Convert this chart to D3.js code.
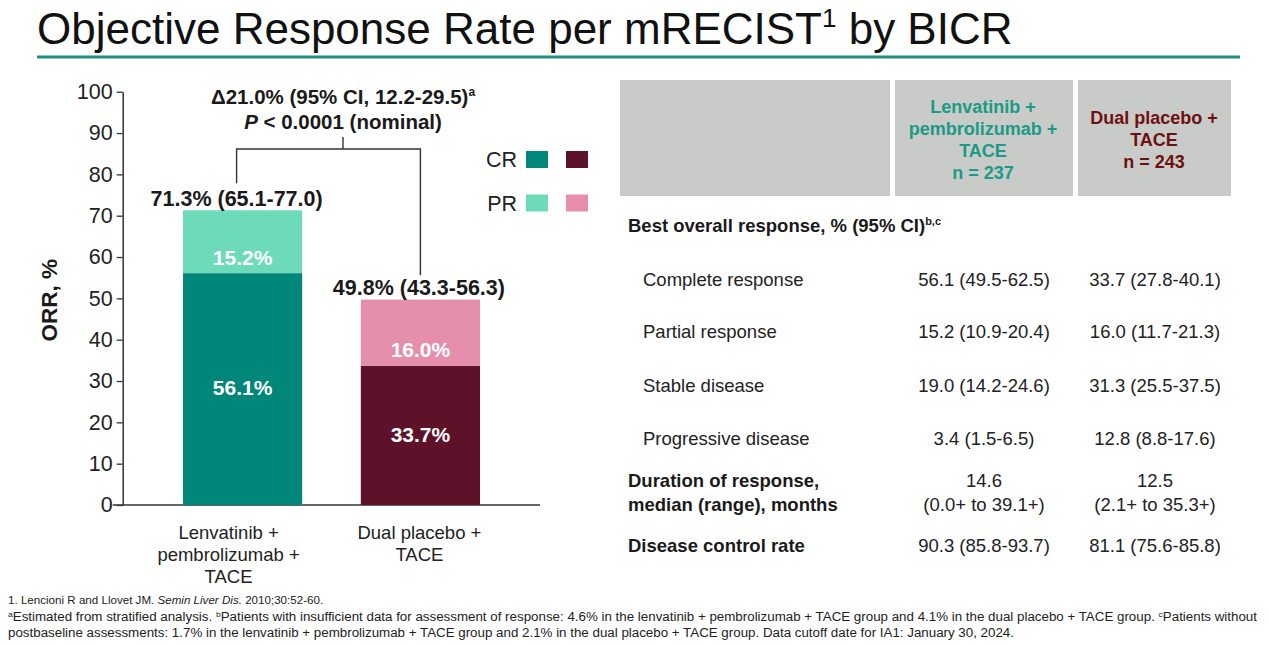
<!DOCTYPE html>
<html>
<head>
<meta charset="utf-8">
<script src="https://cdn.jsdelivr.net/npm/d3@7"></script>
<style>
  html, body { margin: 0; padding: 0; background: #fff; }
  svg { display: block; font-family: "Liberation Sans", Arial, sans-serif; }
</style>
</head>
<body>
<svg id="chart" width="1268" height="646"></svg>
<script>
// ---------------- data ----------------
const groups = ["Lenvatinib + pembrolizumab + TACE", "Dual placebo + TACE"];
const groupLabelLines = [["Lenvatinib +", "pembrolizumab +", "TACE"], ["Dual placebo +", "TACE"]];
const crValues = [56.1, 33.7];
const prValues = [15.2, 16.0];
const orrValues = [71.3, 49.8];
const orrCI = ["65.1-77.0", "43.3-56.3"];
const yTickValues = [0, 10, 20, 30, 40, 50, 60, 70, 80, 90, 100];
const legendKeys = ["CR", "PR"];

const headerLenv = ["Lenvatinib +", "pembrolizumab +", "TACE", "n = 237"];
const headerPlacebo = ["Dual placebo +", "TACE", "n = 243"];
const responseRows = ["Complete response", "Partial response", "Stable disease", "Progressive disease"];
const lenvResponse = ["56.1 (49.5-62.5)", "15.2 (10.9-20.4)", "19.0 (14.2-24.6)", "3.4 (1.5-6.5)"];
const placeboResponse = ["33.7 (27.8-40.1)", "16.0 (11.7-21.3)", "31.3 (25.5-37.5)", "12.8 (8.8-17.6)"];
const dorLabel = ["Duration of response,", "median (range), months"];
const dorLenv = ["14.6", "(0.0+ to 39.1+)"];
const dorPlacebo = ["12.5", "(2.1+ to 35.3+)"];
const dcrLabel = "Disease control rate";
const dcrLenv = "90.3 (85.8-93.7)";
const dcrPlacebo = "81.1 (75.6-85.8)";

// ---------------- styling ----------------
const colors = {
  CR: ["#00877a", "#5d1229"],
  PR: ["#6ddbba", "#e68fac"]
};
const teal = "#1e8c7e";
const headerTeal = "#1b9a86";
const headerMaroon = "#6e1010";
const textDark = "#1a1a1a";

const svg = d3.select("#chart");

// ---------------- title ----------------
const title = svg.append("text")
  .attr("x", 37).attr("y", 44)
  .attr("font-size", 44).attr("fill", "#111");
title.append("tspan").text("Objective Response Rate per mRECIST");
title.append("tspan").attr("font-size", 26).attr("dy", -17).text("1");
title.append("tspan").attr("dy", 17).text(" by BICR");

svg.append("line")
  .attr("x1", 37).attr("x2", 1240).attr("y1", 57).attr("y2", 57)
  .attr("stroke", teal).attr("stroke-width", 3);

// ---------------- bar chart ----------------
const y = d3.scaleLinear().domain([0, 100]).range([505, 91.7]);
const x = d3.scaleBand().domain(groups).range([123, 540])
  .paddingInner(0.33).paddingOuter(0.3375);
const axisX = 122.7;

const yAxis = svg.append("g")
  .attr("transform", `translate(${axisX},0)`)
  .call(d3.axisLeft(y).tickValues(yTickValues).tickSize(6).tickSizeOuter(0).tickPadding(4));
yAxis.select(".domain").attr("stroke", "#333").attr("stroke-width", 1.5);
yAxis.selectAll(".tick line").attr("stroke", "#333").attr("stroke-width", 1.3);
yAxis.selectAll(".tick text")
  .attr("font-size", 21.5).attr("fill", "#222")
  .attr("font-family", "Liberation Sans, Arial, sans-serif");

// x axis baseline
svg.append("line")
  .attr("x1", axisX - 10).attr("x2", x.range()[1])
  .attr("y1", y(0)).attr("y2", y(0))
  .attr("stroke", "#333").attr("stroke-width", 1.5);

// y title
svg.append("text")
  .attr("transform", `translate(57,${y(50) + 2}) rotate(-90)`)
  .attr("text-anchor", "middle")
  .attr("font-size", 22.5).attr("font-weight", "bold").attr("fill", textDark)
  .text("ORR, %");

// stacked bars
const barData = groups.map((g, i) => ({ group: g, idx: i, CR: crValues[i], PR: prValues[i] }));
const stack = d3.stack().keys(legendKeys)(barData);

svg.append("g").selectAll("g")
  .data(stack).join("g")
  .each(function (layer) {
    d3.select(this).selectAll("rect")
      .data(layer).join("rect")
      .attr("x", d => x(d.data.group))
      .attr("width", x.bandwidth())
      .attr("y", d => y(d[1]))
      .attr("height", d => y(d[0]) - y(d[1]))
      .attr("fill", d => colors[layer.key][d.data.idx]);
  });

// in-bar labels
const labelG = svg.append("g")
  .attr("font-size", 21).attr("font-weight", "bold").attr("fill", "#fff")
  .attr("text-anchor", "middle");
barData.forEach(d => {
  const cx = x(d.group) + x.bandwidth() / 2;
  labelG.append("text")
    .attr("x", cx).attr("y", y(d.CR + d.PR * 0.25)).attr("dy", "0.35em")
    .text(d.PR.toFixed(1) + "%");
  labelG.append("text")
    .attr("x", cx).attr("y", y(d.CR / 2)).attr("dy", "0.3em")
    .text(d.CR.toFixed(1) + "%");
});

// ORR labels above bars
const orrOffsets = [-6, -1.5];
barData.forEach((d, i) => {
  svg.append("text")
    .attr("x", x(d.group) + x.bandwidth() / 2 + orrOffsets[i])
    .attr("y", y(orrValues[i]) - 4.5)
    .attr("text-anchor", "middle")
    .attr("font-size", 21.5).attr("font-weight", "bold").attr("fill", textDark)
    .text(`${orrValues[i].toFixed(1)}% (${orrCI[i]})`);
});

// bracket
const bx1 = x(groups[0]) + x.bandwidth() / 2 + orrOffsets[0];
const bx2 = x(groups[1]) + x.bandwidth() / 2;
const by = 149;
const bmid = 343;
const bracket = svg.append("g").attr("stroke", "#333").attr("stroke-width", 1.4).attr("fill", "none");
bracket.append("path")
  .attr("d", `M${bx1},${y(orrValues[0]) - 27}V${by}H${bx2}V${y(orrValues[1]) - 24}`);
bracket.append("line").attr("x1", bmid).attr("x2", bmid).attr("y1", by).attr("y2", by - 12);

const ann1 = svg.append("text")
  .attr("x", bmid).attr("y", 104).attr("text-anchor", "middle")
  .attr("font-size", 20.5).attr("font-weight", "bold").attr("fill", textDark);
ann1.append("tspan").text("\u039421.0% (95% CI, 12.2-29.5)");
ann1.append("tspan").attr("font-size", 12).attr("dy", -8).text("a");
const ann2 = svg.append("text")
  .attr("x", bmid).attr("y", 129).attr("text-anchor", "middle")
  .attr("font-size", 20.5).attr("font-weight", "bold").attr("fill", textDark);
ann2.append("tspan").attr("font-style", "italic").text("P");
ann2.append("tspan").text(" < 0.0001 (nominal)");

// group labels
groupLabelLines.forEach((lines, i) => {
  const cx = x(groups[i]) + x.bandwidth() / 2 + (i === 0 ? -14 : -1);
  const t = svg.append("text")
    .attr("text-anchor", "middle").attr("font-size", 18.5).attr("fill", "#222");
  lines.forEach((ln, j) => {
    t.append("tspan").attr("x", cx).attr("y", y(0) + 34 + j * 22).text(ln);
  });
});

// legend
const legend = svg.append("g");
legendKeys.forEach((k, i) => {
  const ly = 167 + i * 43.5;
  legend.append("text")
    .attr("x", 517).attr("y", ly).attr("text-anchor", "end")
    .attr("font-size", 21.5).attr("fill", "#222").text(k);
  colors[k].forEach((c, j) => {
    legend.append("rect")
      .attr("x", 526 + j * 40).attr("y", ly - 16)
      .attr("width", 22).attr("height", 17).attr("fill", c);
  });
});

// ---------------- table ----------------
const col1 = 984, col2 = 1155;
const tbl = svg.append("g");
[[620, 890], [895, 1073], [1078, 1231]].forEach(([a, b]) => {
  tbl.append("rect").attr("x", a).attr("y", 80).attr("width", b - a).attr("height", 116)
    .attr("fill", "#c9cbc9");
});
const h1 = tbl.append("text").attr("text-anchor", "middle").attr("font-size", 18)
  .attr("font-weight", "bold").attr("fill", headerTeal);
headerLenv.forEach((ln, j) => h1.append("tspan").attr("x", col1 - 1).attr("y", 113 + j * 22).text(ln));
const h2 = tbl.append("text").attr("text-anchor", "middle").attr("font-size", 18)
  .attr("font-weight", "bold").attr("fill", headerMaroon);
headerPlacebo.forEach((ln, j) => h2.append("tspan").attr("x", col2 - 1).attr("y", 124 + j * 22).text(ln));

const bor = tbl.append("text").attr("x", 628).attr("y", 232)
  .attr("font-size", 18.5).attr("font-weight", "bold").attr("fill", textDark);
bor.append("tspan").text("Best overall response, % (95% CI)");
bor.append("tspan").attr("font-size", 11).attr("dy", -7).text("b,c");

const rowYs = [286, 338, 392, 445];
responseRows.forEach((r, i) => {
  tbl.append("text").attr("x", 643).attr("y", rowYs[i]).attr("font-size", 18.5)
    .attr("fill", "#222").text(r);
  tbl.append("text").attr("x", col1).attr("y", rowYs[i]).attr("text-anchor", "middle")
    .attr("font-size", 18.5).attr("fill", "#222").text(lenvResponse[i]);
  tbl.append("text").attr("x", col2).attr("y", rowYs[i]).attr("text-anchor", "middle")
    .attr("font-size", 18.5).attr("fill", "#222").text(placeboResponse[i]);
});
dorLabel.forEach((ln, j) => {
  const yy = 487 + j * 23.5;
  tbl.append("text").attr("x", 628).attr("y", yy).attr("font-size", 18.5)
    .attr("font-weight", "bold").attr("fill", textDark).text(ln);
  tbl.append("text").attr("x", col1).attr("y", yy).attr("text-anchor", "middle")
    .attr("font-size", 18.5).attr("fill", "#222").text(dorLenv[j]);
  tbl.append("text").attr("x", col2).attr("y", yy).attr("text-anchor", "middle")
    .attr("font-size", 18.5).attr("fill", "#222").text(dorPlacebo[j]);
});
tbl.append("text").attr("x", 628).attr("y", 552).attr("font-size", 18.5)
  .attr("font-weight", "bold").attr("fill", textDark).text(dcrLabel);
tbl.append("text").attr("x", col1).attr("y", 552).attr("text-anchor", "middle")
  .attr("font-size", 18.5).attr("fill", "#222").text(dcrLenv);
tbl.append("text").attr("x", col2).attr("y", 552).attr("text-anchor", "middle")
  .attr("font-size", 18.5).attr("fill", "#222").text(dcrPlacebo);

// ---------------- footnotes ----------------
const fnFont = "Liberation Sans Narrow, Arial Narrow, Liberation Sans, Arial, sans-serif";
const fn = svg.append("g").attr("font-family", fnFont).attr("font-size", 12.5).attr("fill", "#222");
const f1 = fn.append("text").attr("x", 8).attr("y", 604).attr("font-size", 11.6);
f1.append("tspan").text("1. Lencioni R and Llovet JM. ");
f1.append("tspan").attr("font-style", "italic").text("Semin Liver Dis.");
f1.append("tspan").text(" 2010;30:52-60.");

const f2 = fn.append("text").attr("x", 8).attr("y", 621)
  .attr("textLength", 1249).attr("lengthAdjust", "spacingAndGlyphs");
f2.append("tspan").attr("font-size", 8).attr("dy", -4).text("a");
f2.append("tspan").attr("dy", 4).text("Estimated from stratified analysis. ");
f2.append("tspan").attr("font-size", 8).attr("dy", -4).text("b");
f2.append("tspan").attr("dy", 4).text("Patients with insufficient data for assessment of response: 4.6% in the lenvatinib + pembrolizumab + TACE group and 4.1% in the dual placebo + TACE group. ");
f2.append("tspan").attr("font-size", 8).attr("dy", -4).text("c");
f2.append("tspan").attr("dy", 4).text("Patients without");

fn.append("text").attr("x", 8).attr("y", 637)
  .attr("textLength", 1006).attr("lengthAdjust", "spacingAndGlyphs")
  .text("postbaseline assessments: 1.7% in the lenvatinib + pembrolizumab + TACE group and 2.1% in the dual placebo + TACE group. Data cutoff date for IA1: January 30, 2024.");
</script>
</body>
</html>
